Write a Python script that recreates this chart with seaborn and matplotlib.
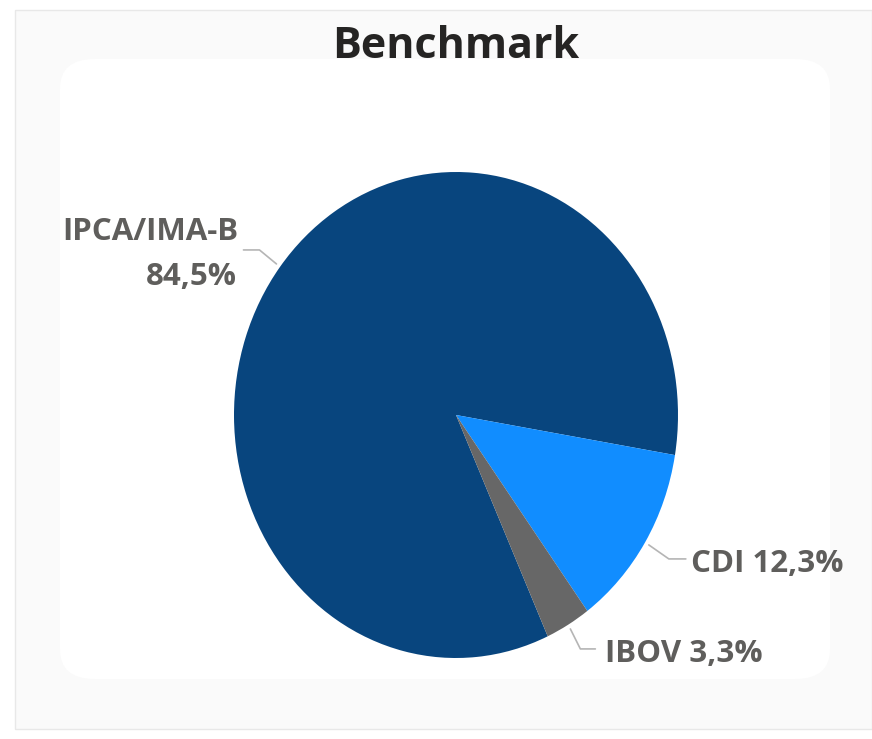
import numpy as np
import matplotlib
matplotlib.use("Agg")
import matplotlib.pyplot as plt
import seaborn as sns
from matplotlib.patches import FancyBboxPatch

# --- DATA ---
labels = ["IPCA/IMA-B", "CDI", "IBOV"]
values = [84.5, 12.3, 3.3]
value_text = ["84,5%", "12,3%", "3,3%"]
colors = ["#08457E", "#118DFF", "#676767"]

W, H = 872, 739


def generate_graph():
    sns.set_theme(style="white")
    plt.rcParams["font.family"] = ["Open Sans", "DejaVu Sans"]

    fig = plt.figure(figsize=(W / 100, H / 100), dpi=100)
    fig.patch.set_facecolor("white")

    # faint card frame behind the chart
    frame = FancyBboxPatch((15 / W, 10 / H), 857 / W, 719 / H,
                           boxstyle="square,pad=0", transform=fig.transFigure,
                           facecolor="#FAFAFA", edgecolor="#E8E8E8", lw=1, zorder=-2)
    inner = FancyBboxPatch((60 / W, 60 / H), 770 / W, 620 / H,
                           boxstyle="round,pad=0,rounding_size=0.04", transform=fig.transFigure,
                           facecolor="white", edgecolor="none", zorder=-1)
    fig.patches.extend([frame, inner])

    fig.text(456 / W, 1 - 58 / H, "Benchmark", ha="center", va="baseline",
             fontsize=31, fontweight="bold", color="#252423", zorder=5)

    # pie axes (slightly taller than wide, like the source)
    cx, cy, rx, ry = 456, 415, 222, 243
    ax = fig.add_axes([(cx - rx) / W, 1 - (cy + ry) / H, 2 * rx / W, 2 * ry / H])
    ax.set_zorder(3)
    ax.set_facecolor("none")
    wedges, _ = ax.pie(values, colors=colors, startangle=-65.6, counterclock=False,
                       wedgeprops=dict(linewidth=0))
    ax.set_aspect("auto")
    ax.set_xlim(-1, 1)
    ax.set_ylim(-1, 1)
    ax.axis("off")

    # leader line offsets (pixels) per label
    elbow = [(-17, 14), (20, -14), (10, -20)]
    tail = [(-33, 14), (37, -14), (25, -20)]
    # text lines: (text, x offset px, y offset px, ha) relative to leader tail
    label_lines = [
        [(labels[0], -5, 10, "right"), (value_text[0], -7, -35, "right")],
        [(f"{labels[1]} {value_text[1]}", 5, -13, "left")],
        [(f"{labels[2]} {value_text[2]}", 10, -13, "left")],
    ]
    lbl_style = dict(fontsize=22.5, fontweight="bold", color="#5F5E5C", va="baseline")
    for i, w in enumerate(wedges):
        ang = np.deg2rad((w.theta1 + w.theta2) / 2)
        x0, y0 = 1.02 * np.cos(ang), 1.02 * np.sin(ang)
        ex, ey = x0 + elbow[i][0] / rx, y0 + elbow[i][1] / ry
        tx, ty = x0 + tail[i][0] / rx, y0 + tail[i][1] / ry
        ax.plot([x0, ex, tx], [y0, ey, ty], color="#B5B5B5", lw=1.2, clip_on=False)
        for txt, dx, dy, ha in label_lines[i]:
            ax.annotate(txt, xy=(tx, ty), xytext=(dx, dy), textcoords="offset pixels",
                        ha=ha, annotation_clip=False, **lbl_style)

    fig.savefig("out.png", dpi=100, facecolor=fig.get_facecolor())


if __name__ == "__main__":
    generate_graph()
